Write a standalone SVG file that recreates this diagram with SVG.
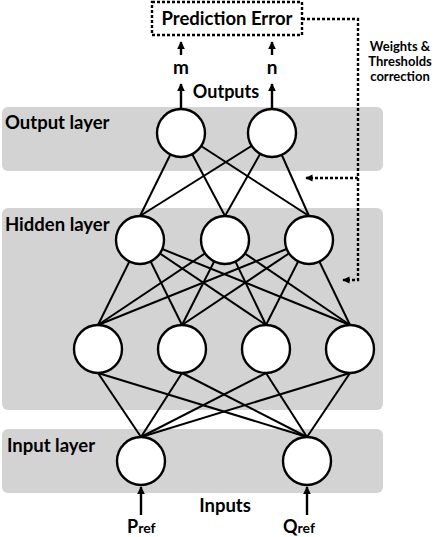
<svg xmlns="http://www.w3.org/2000/svg" width="436" height="537" viewBox="0 0 436 537">
<style>
.band{fill:#d3d3d3}
.node{fill:#fff;stroke:#000;stroke-width:2.4}
.edge{stroke:#000;stroke-width:2;fill:none}
.arr{stroke:#000;stroke-width:2.4;fill:none}
.dash{stroke:#000;stroke-width:2.4;fill:none;stroke-dasharray:3 2}
.t{font-family:Lato,"Open Sans","Liberation Sans",sans-serif;font-weight:bold;fill:#000}
</style>
<defs>
<marker id="ah" viewBox="0 0 10 10" refX="9" refY="5" markerWidth="3.6" markerHeight="3.2" orient="auto" markerUnits="strokeWidth">
<path d="M0,0 L10,5 L0,10 z" fill="#000"/>
</marker>
<marker id="ahd" viewBox="0 0 10 10" refX="9" refY="5" markerWidth="3.6" markerHeight="3" orient="auto" markerUnits="strokeWidth">
<path d="M0,0 L10,5 L0,10 z" fill="#000"/>
</marker>
</defs>
<g id="bands">
<rect class="band" x="2" y="107" width="381" height="64" rx="6"/>
<rect class="band" x="2" y="208" width="381" height="202" rx="6"/>
<rect class="band" x="2" y="429" width="381" height="64" rx="6"/>
</g>
<g id="connectors">
<line class="edge" x1="181" y1="133" x2="140" y2="216"/>
<line class="edge" x1="181" y1="133" x2="225" y2="216"/>
<line class="edge" x1="181" y1="133" x2="309" y2="216"/>
<line class="edge" x1="272" y1="133" x2="140" y2="216"/>
<line class="edge" x1="272" y1="133" x2="225" y2="216"/>
<line class="edge" x1="272" y1="133" x2="309" y2="216"/>
<line class="edge" x1="140" y1="240" x2="98" y2="325"/>
<line class="edge" x1="140" y1="240" x2="182" y2="325"/>
<line class="edge" x1="140" y1="240" x2="266" y2="325"/>
<line class="edge" x1="140" y1="240" x2="350" y2="325"/>
<line class="edge" x1="225" y1="240" x2="98" y2="325"/>
<line class="edge" x1="225" y1="240" x2="182" y2="325"/>
<line class="edge" x1="225" y1="240" x2="266" y2="325"/>
<line class="edge" x1="225" y1="240" x2="350" y2="325"/>
<line class="edge" x1="309" y1="240" x2="98" y2="325"/>
<line class="edge" x1="309" y1="240" x2="182" y2="325"/>
<line class="edge" x1="309" y1="240" x2="266" y2="325"/>
<line class="edge" x1="309" y1="240" x2="350" y2="325"/>
<line class="edge" x1="98" y1="373" x2="141" y2="437"/>
<line class="edge" x1="98" y1="373" x2="307" y2="437"/>
<line class="edge" x1="182" y1="373" x2="141" y2="437"/>
<line class="edge" x1="182" y1="373" x2="307" y2="437"/>
<line class="edge" x1="266" y1="373" x2="141" y2="437"/>
<line class="edge" x1="266" y1="373" x2="307" y2="437"/>
<line class="edge" x1="350" y1="373" x2="141" y2="437"/>
<line class="edge" x1="350" y1="373" x2="307" y2="437"/>
<line class="arr" x1="181" y1="110" x2="181" y2="84" marker-end="url(#ah)"/>
<line class="arr" x1="272" y1="110" x2="272" y2="84" marker-end="url(#ah)"/>
<line class="arr" x1="181" y1="55" x2="181" y2="42" marker-end="url(#ah)"/>
<line class="arr" x1="272" y1="55" x2="272" y2="42" marker-end="url(#ah)"/>
<line class="arr" x1="141" y1="515" x2="141" y2="487" marker-end="url(#ah)"/>
<line class="arr" x1="307" y1="515" x2="307" y2="487" marker-end="url(#ah)"/>
<path class="dash" d="M302,19 H358 V280 H343" marker-end="url(#ahd)"/>
<path class="dash" d="M358,178 H306" marker-end="url(#ahd)"/>
</g>
<g id="prediction-error">
<rect class="dash" x="152" y="2" width="150" height="33"/>
<text class="t" x="227" y="25" font-size="18.5" text-anchor="middle">Prediction Error</text>
</g>
<g id="output-labels">
<text class="t" x="181" y="74" font-size="19" text-anchor="middle">m</text>
<text class="t" x="272" y="74" font-size="19" text-anchor="middle">n</text>
<text class="t" x="226" y="98" font-size="18" text-anchor="middle">Outputs</text>
</g>
<g id="correction-label">
<text class="t" x="400" y="51" font-size="13" text-anchor="middle">Weights &amp;</text>
<text class="t" x="400" y="66" font-size="13" text-anchor="middle">Thresholds</text>
<text class="t" x="400" y="81" font-size="13" text-anchor="middle">correction</text>
</g>
<g id="layer-labels">
<text class="t" x="5" y="129" font-size="18.5">Output layer</text>
<text class="t" x="5" y="231" font-size="18.5">Hidden layer</text>
<text class="t" x="7" y="452" font-size="18.5">Input layer</text>
<text class="t" x="225" y="512" font-size="18.5" text-anchor="middle">Inputs</text>
</g>
<g id="out-1"><circle class="node" cx="181" cy="133" r="24"/></g>
<g id="out-2"><circle class="node" cx="272" cy="133" r="24"/></g>
<g id="hid1-1"><circle class="node" cx="140" cy="240" r="24"/></g>
<g id="hid1-2"><circle class="node" cx="225" cy="240" r="24"/></g>
<g id="hid1-3"><circle class="node" cx="309" cy="240" r="24"/></g>
<g id="hid2-1"><circle class="node" cx="98" cy="349" r="24"/></g>
<g id="hid2-2"><circle class="node" cx="182" cy="349" r="24"/></g>
<g id="hid2-3"><circle class="node" cx="266" cy="349" r="24"/></g>
<g id="hid2-4"><circle class="node" cx="350" cy="349" r="24"/></g>
<g id="in-1"><circle class="node" cx="141" cy="461" r="24"/></g>
<g id="in-2"><circle class="node" cx="307" cy="461" r="24"/></g>
<g id="input-labels">
<text class="t" x="127" y="533" font-size="18">P<tspan font-size="14">ref</tspan></text>
<text class="t" x="283" y="533" font-size="18">Q<tspan font-size="14">ref</tspan></text>
</g>
</svg>
